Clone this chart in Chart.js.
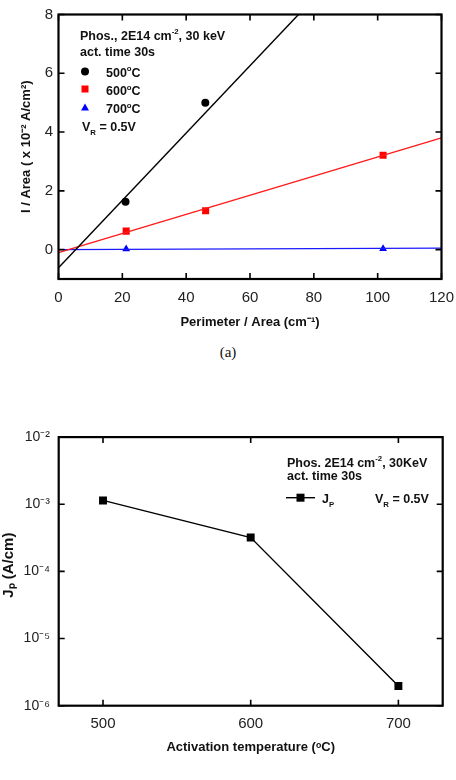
<!DOCTYPE html>
<html><head><meta charset="utf-8">
<script src="https://cdn.jsdelivr.net/npm/chart.js@4/dist/chart.umd.min.js"></script>
<style>
html,body{margin:0;padding:0;background:#fff;width:456px;height:780px;overflow:hidden;}
#c1{position:absolute;left:0;top:0;}
#c2{position:absolute;left:0;top:420px;}
#lab{position:absolute;left:0;width:456px;top:343px;text-align:center;font:15px "Liberation Serif","Times New Roman",serif;line-height:18px;color:#111;}
</style></head><body>
<canvas id="c1" width="456" height="340"></canvas>
<div id="lab">(a)</div>
<canvas id="c2" width="456" height="360"></canvas>
<script>
// ---------- data: chart (a) ----------
const xTicksA = [0, 20, 40, 60, 80, 100, 120];
const yTicksA = [0, 2, 4, 6, 8];
const pa500 = [21, 46];
const val500 = [1.63, 5.0];
const pa600 = [21.2, 46.1, 101.7];
const val600 = [0.63, 1.32, 3.21];
const pa700 = [21.2, 101.7];
const val700 = [0.02, 0.03];
// fitted lines (end points)
const fitX500 = [0, 75.2];
const fitY500 = [-0.62, 8];
const fitX600 = [0, 120];
const fitY600 = [-0.1, 3.8];
const fitX700 = [0, 120];
const fitY700 = [0.0, 0.05];

// ---------- data: chart (b) ----------
const tempsB = [500, 600, 700];
const jpB = [1.14e-3, 3.19e-4, 1.96e-6];
const xTicksB = [500, 600, 700];
const yTicksB = [1e-6, 1e-5, 1e-4, 1e-3, 1e-2];
const supDigits = {'-':'⁻','0':'⁰','1':'¹','2':'²','3':'³','4':'⁴','5':'⁵','6':'⁶','7':'⁷','8':'⁸','9':'⁹'};

const FAM = '"Liberation Sans", Arial, Helvetica, sans-serif';
Chart.defaults.font.family = FAM;
Chart.defaults.color = '#222';

function pts(xs, ys){ return xs.map((x,i)=>({x:x, y:ys[i]})); }

function rich(ctx, x, y, runs, size, align){
  ctx.save();
  ctx.textBaseline = 'alphabetic';
  ctx.fillStyle = '#111';
  const f = s => 'bold ' + s + 'px ' + FAM;
  let w = 0;
  for (const [t,m] of runs){ ctx.font = f(m ? size*0.62 : size); w += ctx.measureText(t).width; }
  let cx = align === 'center' ? x - w/2 : (align === 'right' ? x - w : x);
  for (const [t,m] of runs){
    const s = m ? size*0.62 : size;
    ctx.font = f(s);
    const dy = m === 1 ? -size*0.42 : (m === -1 ? size*0.28 : 0);
    ctx.fillText(t, cx, y + dy);
    cx += ctx.measureText(t).width;
  }
  ctx.restore();
}

const frameTicks = {
  id: 'frameTicks',
  afterDraw(chart){
    const {ctx, chartArea:a, scales} = chart;
    const xs = scales.x, ys = scales.y, L = 6;
    ctx.save();
    ctx.strokeStyle = '#000';
    ctx.lineWidth = 1.6;
    ctx.beginPath();
    xs.ticks.forEach(t => { const p = xs.getPixelForValue(t.value);
      ctx.moveTo(p, a.bottom); ctx.lineTo(p, a.bottom - L);
      ctx.moveTo(p, a.top); ctx.lineTo(p, a.top + L); });
    ys.ticks.forEach(t => { const p = ys.getPixelForValue(t.value);
      ctx.moveTo(a.left, p); ctx.lineTo(a.left + L, p);
      ctx.moveTo(a.right, p); ctx.lineTo(a.right - L, p); });
    ctx.stroke();
    ctx.lineWidth = 2.2;
    ctx.strokeRect(a.left, a.top, a.right - a.left, a.bottom - a.top);
    ctx.restore();
  }
};

const legendA = {
  id: 'legendA',
  afterDraw(chart){
    const ctx = chart.ctx;
    rich(ctx, 80, 39.5, [['Phos., 2E14 cm',0],['-2',1],[', 30 keV',0]], 12.5);
    rich(ctx, 80, 56, [['act. time 30s',0]], 12.5);
    ctx.save();
    ctx.fillStyle = '#000';
    ctx.beginPath(); ctx.arc(85, 71.5, 4, 0, Math.PI*2); ctx.fill();
    ctx.fillStyle = '#ff0000';
    ctx.fillRect(81.5, 85.5, 7, 7);
    ctx.fillStyle = '#0000ff';
    ctx.beginPath(); ctx.moveTo(85, 103.5); ctx.lineTo(89, 110.5); ctx.lineTo(81, 110.5); ctx.closePath(); ctx.fill();
    ctx.restore();
    rich(ctx, 106, 76.5, [['500',0],['o',1],['C',0]], 12.5);
    rich(ctx, 106, 95, [['600',0],['o',1],['C',0]], 12.5);
    rich(ctx, 106, 113, [['700',0],['o',1],['C',0]], 12.5);
    rich(ctx, 82, 131, [['V',0],['R',-1],[' = 0.5V',0]], 12.5);
  }
};

const legendB = {
  id: 'legendB',
  afterDraw(chart){
    const ctx = chart.ctx;
    rich(ctx, 287, 46.5, [['Phos. 2E14 cm',0],['-2',1],[', 30KeV',0]], 12.5);
    rich(ctx, 287, 60, [['act. time 30s',0]], 12.5);
    ctx.save();
    ctx.strokeStyle = '#000'; ctx.lineWidth = 1.4;
    ctx.beginPath(); ctx.moveTo(286, 77.7); ctx.lineTo(315, 77.7); ctx.stroke();
    ctx.fillStyle = '#000'; ctx.fillRect(296.5, 73.7, 8, 8);
    ctx.restore();
    rich(ctx, 322, 83, [['J',0],['P',-1]], 12.5);
    rich(ctx, 375, 83, [['V',0],['R',-1],[' = 0.5V',0]], 12.5);
  }
};

const noSidePad = s => { s.paddingLeft = 0; s.paddingRight = 0; };

new Chart(document.getElementById('c1'), {
  type: 'scatter',
  data: { datasets: [
    { label:'500°C fit', type:'line', data: pts(fitX500, fitY500), borderColor:'#000', borderWidth:1.4, pointRadius:0, fill:false },
    { label:'600°C fit', type:'line', data: pts(fitX600, fitY600), borderColor:'#ff1a1a', borderWidth:1.4, pointRadius:0, fill:false },
    { label:'700°C fit', type:'line', data: pts(fitX700, fitY700), borderColor:'#1a1aff', borderWidth:1.4, pointRadius:0, fill:false },
    { label:'500°C', data: pts(pa500, val500), pointStyle:'circle', pointRadius:4, backgroundColor:'#000', borderColor:'#000', borderWidth:0 },
    { label:'600°C', data: pts(pa600, val600), pointStyle:'rect', pointRadius:5, backgroundColor:'#ff0000', borderColor:'#ff0000', borderWidth:0 },
    { label:'700°C', data: pts(pa700, val700), pointStyle:'triangle', pointRadius:4.5, backgroundColor:'#0000ff', borderColor:'#0000ff', borderWidth:0 }
  ]},
  options: {
    responsive:false, animation:false, devicePixelRatio:1,
    layout:{ padding:{ left:0, right:14.5, top:12, bottom:0 } },
    plugins:{ legend:{display:false}, tooltip:{enabled:false} },
    scales:{
      x:{ type:'linear', min:0, max:120,
        afterBuildTicks: s => { s.ticks = xTicksA.map(v => ({value:v})); },
        grid:{ display:false, drawTicks:false }, border:{ display:false },
        ticks:{ font:{size:15}, padding:10, maxRotation:0 },
        title:{ display:true, text:'Perimeter / Area (cm⁻¹)', color:'#111', font:{size:13, weight:'bold'}, padding:{top:0, bottom:9.5} },
        afterFit: s => { s.height = 61; noSidePad(s); } },
      y:{ type:'linear', min:-1, max:8,
        afterBuildTicks: s => { s.ticks = yTicksA.map(v => ({value:v})); },
        grid:{ display:false, drawTicks:false }, border:{ display:false },
        ticks:{ font:{size:15}, padding:5.5 },
        title:{ display:true, text:'I / Area ( x 10⁻² A/cm²)', color:'#111', font:{size:13, weight:'bold'}, padding:{top:18.2, bottom:0} },
        afterFit: s => { s.width = 58.5; } }
    }
  },
  plugins:[frameTicks, legendA]
});

new Chart(document.getElementById('c2'), {
  type: 'line',
  data: { datasets: [
    { label:'Jₚ', data: pts(tempsB, jpB), borderColor:'#000', borderWidth:1.4, pointStyle:'rect', pointRadius:5.6, backgroundColor:'#000', pointBorderWidth:0, fill:false, tension:0 }
  ]},
  options: {
    responsive:false, animation:false, devicePixelRatio:1,
    layout:{ padding:{ left:0, right:13.3, top:15.7, bottom:0 } },
    plugins:{ legend:{display:false}, tooltip:{enabled:false} },
    scales:{
      x:{ type:'linear', min:470, max:730,
        afterBuildTicks: s => { s.ticks = xTicksB.map(v => ({value:v})); },
        grid:{ display:false, drawTicks:false }, border:{ display:false },
        ticks:{ font:{size:15}, padding:9.5, maxRotation:0 },
        title:{ display:true, text:'Activation temperature (ᵒC)', color:'#111', font:{size:13, weight:'bold'}, padding:{top:0, bottom:24.5} },
        afterFit: s => { s.height = 74.3; noSidePad(s); } },
      y:{ type:'logarithmic', min:1e-6, max:1e-2,
        afterBuildTicks: s => { s.ticks = yTicksB.map(v => ({value:v})); },
        grid:{ display:false, drawTicks:false }, border:{ display:false },
        ticks:{ font:{size:14}, padding:8.7,
          callback: v => '10' + String(Math.round(Math.log10(v))).split('').map(c => supDigits[c]).join('') },
        title:{ display:true, text:'\u00a0\u00a0\u00a0Jₚ (A/cm)', color:'#111', font:{size:15, weight:'bold'}, padding:{top:0, bottom:0} },
        afterFit: s => { s.width = 58.7; } }
    }
  },
  plugins:[frameTicks, legendB]
});
</script>
</body></html>
